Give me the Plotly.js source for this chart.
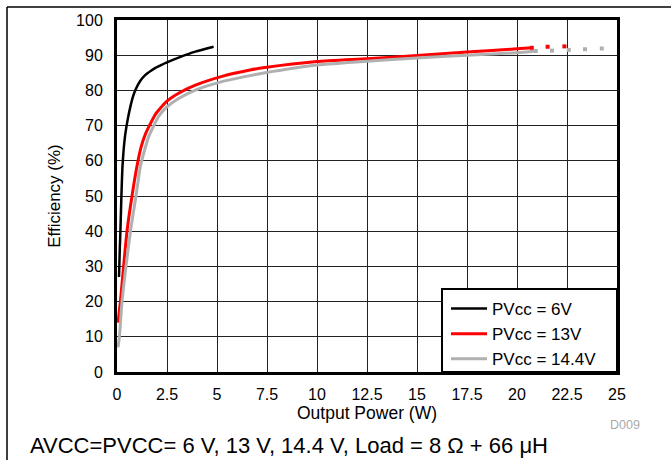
<!DOCTYPE html>
<html>
<head>
<meta charset="utf-8">
<script src="https://cdn.plot.ly/plotly-3.0.1.min.js"></script>
<style>
  html, body { margin: 0; padding: 0; background: #fff; }
  #chart { width: 671px; height: 460px; }
</style>
</head>
<body>
<div id="chart"></div>
<script>
// Output power (W) and efficiency (%) per supply voltage
const pv6_x = [0.1, 0.14, 0.17, 0.22, 0.27, 0.33, 0.42, 0.55, 0.67, 0.8, 0.92, 1.15, 1.42, 1.7, 1.92, 2.2, 2.47, 3.08, 3.92, 4.83];
const pv6_y = [27, 35, 40, 50, 58, 63, 67.8, 72.2, 75.4, 78.2, 80.1, 82.6, 84.4, 85.6, 86.4, 87.2, 87.9, 89.3, 91.0, 92.4];

const pv13_x = [0.05, 0.17, 0.33, 0.5, 0.75, 1.0, 1.2, 1.42, 1.92, 2.47, 3.08, 3.92, 5.25, 6.65, 7.4, 10, 12.5, 15, 17.5, 20, 20.74];
const pv13_y = [14, 20, 30, 40, 50, 58.5, 63.8, 67.6, 73.2, 76.8, 79.2, 81.5, 84.0, 85.8, 86.5, 88.2, 89.0, 89.9, 90.9, 91.8, 92.1];
const pv13_ext_x = [20.74, 21.53, 22.37];
const pv13_ext_y = [92.1, 92.4, 92.5];

const pv144_x = [0.05, 0.12, 0.25, 0.45, 0.67, 0.95, 1.17, 1.58, 2.08, 2.47, 3.08, 3.92, 5.25, 6.65, 7.4, 10, 12.5, 15, 17.5, 20, 20.94];
const pv144_y = [7, 10, 20, 30, 40, 50, 58.5, 66.8, 72.6, 75.2, 77.7, 80.1, 82.5, 84.2, 85.0, 87.2, 88.3, 89.2, 90.0, 90.7, 91.2];
const pv144_ext_x = [20.94, 21.75, 22.59, 23.4, 24.24];
const pv144_ext_y = [91.2, 91.3, 91.5, 91.7, 91.9];

const seriesNames = ['PVcc = 6V', 'PVcc = 13V', 'PVcc = 14.4V'];
const xTicks = [0, 2.5, 5, 7.5, 10, 12.5, 15, 17.5, 20, 22.5, 25];
const yTicks = [0, 10, 20, 30, 40, 50, 60, 70, 80, 90, 100];

const FONT = 'Liberation Sans, Arial, sans-serif';
const RED = '#ff0000', GRAY = '#b0b0b0';

const traces = [
  {x: pv6_x, y: pv6_y, name: seriesNames[0], mode: 'lines', line: {color: '#000', width: 2.5, shape: 'spline', smoothing: 0.5}},
  {x: pv13_x, y: pv13_y, name: seriesNames[1], mode: 'lines', line: {color: RED, width: 3, shape: 'spline', smoothing: 0.5}},
  {x: pv144_x, y: pv144_y, name: seriesNames[2], mode: 'lines', line: {color: GRAY, width: 3, shape: 'spline', smoothing: 0.5}},
  {x: pv13_ext_x, y: pv13_ext_y, mode: 'markers', showlegend: false, marker: {symbol: 'square', size: 4, color: RED}},
  {x: pv144_ext_x, y: pv144_ext_y, mode: 'markers', showlegend: false, marker: {symbol: 'square', size: 4, color: GRAY}}
];

const px2x = p => (p - 117) / 500;
const py2y = p => (372 - p) / 352;

const layout = {
  width: 671, height: 460,
  margin: {l: 117, r: 54, t: 20, b: 88, pad: 0},
  paper_bgcolor: '#fff', plot_bgcolor: '#fff',
  font: {family: FONT, size: 16, color: '#000'},
  showlegend: true,
  legend: {
    x: px2x(446), y: py2y(291), xanchor: 'left', yanchor: 'top',
    bgcolor: 'rgba(0,0,0,0)', borderwidth: 0,
    font: {family: FONT, size: 17, color: '#000'},
    itemwidth: 36, tracegroupgap: 0
  },
  xaxis: {
    range: [0, 25], tickvals: xTicks, ticktext: xTicks.map(String),
    showgrid: true, gridcolor: '#222', gridwidth: 1,
    showline: true, mirror: true, linecolor: '#000', linewidth: 3,
    ticks: '', zeroline: false, ticklabelstandoff: 6,
    tickfont: {family: FONT, size: 16},
    title: {text: 'Output Power (W)', font: {family: FONT, size: 17.5}, standoff: 5}
  },
  yaxis: {
    range: [0, 100], tickvals: yTicks, ticktext: yTicks.map(String),
    showgrid: true, gridcolor: '#222', gridwidth: 1,
    showline: true, mirror: true, linecolor: '#000', linewidth: 3,
    ticks: '', zeroline: false, ticklabelstandoff: 8,
    tickfont: {family: FONT, size: 16},
    title: {text: 'Efficiency (%)', font: {family: FONT, size: 17}, standoff: 12}
  },
  shapes: [
    {type: 'rect', xref: 'paper', yref: 'paper', x0: px2x(442), x1: 1, y0: 0, y1: py2y(289),
     fillcolor: '#fff', line: {color: '#000', width: 2}, layer: 'above'},
    {type: 'line', xref: 'paper', yref: 'paper', x0: px2x(7), x1: px2x(680), y0: py2y(7), y1: py2y(7),
     line: {color: '#000', width: 1.5}},
    {type: 'line', xref: 'paper', yref: 'paper', x0: px2x(7), x1: px2x(7), y0: py2y(7), y1: py2y(470),
     line: {color: '#000', width: 1.5}}
  ],
  annotations: [
    {xref: 'paper', yref: 'paper', x: px2x(625), y: py2y(425), text: 'D009', showarrow: false,
     font: {family: FONT, size: 12.5, color: '#aaa'}, xanchor: 'center', yanchor: 'middle'},
    {xref: 'paper', yref: 'paper', x: px2x(28), y: py2y(445), text: 'AVCC=PVCC= 6 V, 13 V, 14.4 V, Load = 8 Ω + 66 μH',
     showarrow: false, font: {family: FONT, size: 22, color: '#000'}, xanchor: 'left', yanchor: 'middle'}
  ]
};

Plotly.newPlot('chart', traces, layout, {displayModeBar: false, staticPlot: true});
</script>
</body>
</html>
